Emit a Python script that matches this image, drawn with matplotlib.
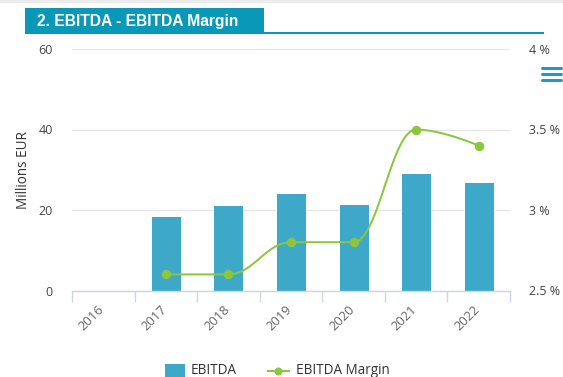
import matplotlib
matplotlib.use("Agg")
import matplotlib.pyplot as plt
import matplotlib.transforms as mtransforms
from matplotlib.path import Path
from matplotlib.patches import PathPatch, Rectangle
from matplotlib.lines import Line2D

# ---- data ----
years = ["2016", "2017", "2018", "2019", "2020", "2021", "2022"]
ebitda = [None, 18.6, 21.3, 24.2, 21.5, 29.2, 27.0]          # Millions EUR
margin = [None, 2.6, 2.6, 2.8, 2.8, 3.5, 3.4]                # %
left_ticks = [0, 20, 40, 60]
right_ticks = [2.5, 3.0, 3.5, 4.0]
right_tick_labels = ["2.5 %", "3 %", "3.5 %", "4 %"]
title = "2. EBITDA - EBITDA Margin"
y_title = "Millions EUR"
legend_labels = ["EBITDA", "EBITDA Margin"]

# ---- styling ----
W, H = 563, 377
BAR = "#3ea8c9"
GREEN = "#8cc63f"
TAB = "#0a98b9"
GRID = "#e6e6e6"
AXIS = "#ccd6eb"
LABEL = "#666666"
YLABEL = "#444444"
FONT = "Open Sans"


def px(v):
    """pixels -> points"""
    return v * 72.0 / 100.0


def fx(x):
    return x / W


def fy(y):
    return 1 - y / H


def spline_path(xs, ys, smoothing=1.5):
    """Smooth curve through points (Highcharts-style spline)."""
    n = len(xs)
    denom = smoothing + 1
    lc = [None] * n
    rc = [None] * n
    for i in range(n):
        if 0 < i < n - 1:
            lx, ly = xs[i - 1], ys[i - 1]
            nx, ny = xs[i + 1], ys[i + 1]
            pxx, pyy = xs[i], ys[i]
            lcx = (smoothing * pxx + lx) / denom
            lcy = (smoothing * pyy + ly) / denom
            rcx = (smoothing * pxx + nx) / denom
            rcy = (smoothing * pyy + ny) / denom
            if rcx != lcx:
                corr = ((rcy - lcy) * (rcx - pxx)) / (rcx - lcx) + pyy - rcy
                lcy += corr
                rcy += corr
            if lcy > ly and lcy > pyy:
                lcy = max(ly, pyy)
                rcy = 2 * pyy - lcy
            elif lcy < ly and lcy < pyy:
                lcy = min(ly, pyy)
                rcy = 2 * pyy - lcy
            if rcy > ny and rcy > pyy:
                rcy = max(ny, pyy)
                lcy = 2 * pyy - rcy
            elif rcy < ny and rcy < pyy:
                rcy = min(ny, pyy)
                lcy = 2 * pyy - rcy
            lc[i] = (lcx, lcy)
            rc[i] = (rcx, rcy)
        else:
            lc[i] = (xs[i], ys[i])
            rc[i] = (xs[i], ys[i])
    verts = [(xs[0], ys[0])]
    codes = [Path.MOVETO]
    for i in range(1, n):
        verts += [rc[i - 1], lc[i], (xs[i], ys[i])]
        codes += [Path.CURVE4] * 3
    return Path(verts, codes)


fig = plt.figure(figsize=(W / 100, H / 100), dpi=100)
fig.patch.set_facecolor("white")

ax = fig.add_axes([fx(72), fy(290.5), (510 - 72) / W, (290.5 - 49) / H])
ax.set_facecolor("none")

# bars
idx = list(range(len(years)))
bx = [i for i, v in zip(idx, ebitda) if v is not None]
bv = [v for v in ebitda if v is not None]
ax.bar(bx, bv, width=0.48, color=BAR, edgecolor="white", linewidth=0.7, zorder=2)

ax.set_xlim(-0.5, len(years) - 0.5)
ax.set_ylim(0, 60)
ax.set_yticks(left_ticks)
ax.set_yticklabels([str(t) for t in left_ticks], fontsize=px(12.5), color=YLABEL, family=FONT)
ax.yaxis.grid(True, color=GRID, linewidth=1.0)
ax.set_axisbelow(True)
ax.tick_params(axis="y", length=0, pad=px(19))

ax.set_xticks(idx)
ax.set_xticklabels(years, fontsize=px(13), color=LABEL, family=FONT)
ax.set_xticks([i - 0.5 for i in range(len(years) + 1)], minor=True)
ax.tick_params(axis="x", which="major", length=0, pad=px(17))
ax.tick_params(axis="x", which="minor", length=px(11), width=1.0, color=AXIS)
shift = mtransforms.ScaledTranslation(-1 / 100, 0, fig.dpi_scale_trans)
for lab in ax.get_xticklabels():
    lab.set_rotation(45)
    lab.set_ha("right")
    lab.set_va("center")
    lab.set_rotation_mode("anchor")
    lab.set_transform(lab.get_transform() + shift)

for s in ["top", "left", "right"]:
    ax.spines[s].set_visible(False)
ax.spines["bottom"].set_color(AXIS)
ax.spines["bottom"].set_linewidth(1.0)

ax.set_ylabel(y_title, fontsize=px(13.5), color="#333333", family=FONT, labelpad=px(8))

# margin line on the secondary axis
ax2 = ax.twinx()
ax2.set_facecolor("none")
ax2.set_ylim(2.5, 4.0)
ax2.set_yticks(right_ticks)
ax2.set_yticklabels(right_tick_labels, fontsize=px(12.5), color=YLABEL, family=FONT)
ax2.tick_params(axis="y", length=0, pad=px(19))
for s in ax2.spines.values():
    s.set_visible(False)

mx = [i for i, v in zip(idx, margin) if v is not None]
mv = [v for v in margin if v is not None]
ax2.add_patch(PathPatch(spline_path(mx, mv), fill=False, edgecolor=GREEN,
                        linewidth=px(2), zorder=3, capstyle="round", joinstyle="round"))
ax2.plot(mx, mv, "o", color=GREEN, markersize=px(9.5), markeredgewidth=0, zorder=4)

# header band and title tab
fig.add_artist(Rectangle((0, fy(3)), 1, 3 / H, transform=fig.transFigure,
                         facecolor="#ececec", edgecolor="none"))
fig.add_artist(Rectangle((fx(24.5), fy(34)), (263.5 - 24.5) / W, (34 - 8) / H,
                         transform=fig.transFigure, facecolor=TAB, edgecolor="none"))
fig.add_artist(Rectangle((fx(24.5), fy(33.5)), (544 - 24.5) / W, 2 / H,
                         transform=fig.transFigure, facecolor=TAB, edgecolor="none"))
fig.text(fx(37), fy(25.7), title, color="white", fontsize=px(15.6), fontweight="bold",
         family="Liberation Sans", va="baseline", ha="left")

# menu icon
for yy in (67.7, 73.7, 79.7):
    fig.add_artist(Line2D([fx(542), fx(560.5)], [fy(yy), fy(yy)], transform=fig.transFigure,
                          color="#1a9bc0", linewidth=px(3), solid_capstyle="round"))

# legend
fig.add_artist(Rectangle((fx(165), fy(384)), 20 / W, 20 / H, transform=fig.transFigure,
                         facecolor=BAR, edgecolor="none"))
fig.text(fx(191), fy(373.5), legend_labels[0], fontsize=px(13.5), color="#333333",
         family=FONT, va="baseline", ha="left")
fig.add_artist(Line2D([fx(267.5), fx(289)], [fy(371), fy(371)], transform=fig.transFigure,
                      color=GREEN, linewidth=px(2)))
fig.add_artist(Line2D([fx(278.3)], [fy(371)], transform=fig.transFigure, marker="o",
                      color=GREEN, markersize=px(8), markeredgewidth=0))
fig.text(fx(296), fy(373.5), legend_labels[1], fontsize=px(13.5), color="#333333",
         family=FONT, va="baseline", ha="left")

fig.savefig("out.png", dpi=100)
